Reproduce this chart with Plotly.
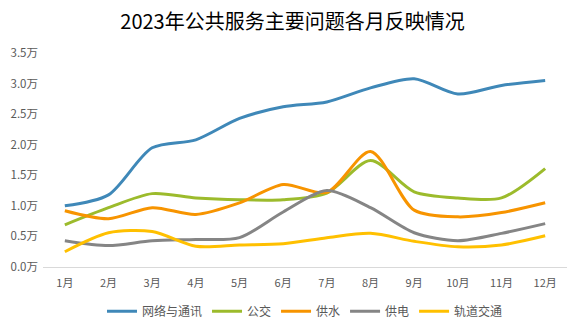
import plotly.graph_objects as go

months = ["1月", "2月", "3月", "4月", "5月", "6月", "7月", "8月", "9月", "10月", "11月", "12月"]

network = [1.00, 1.18, 1.95, 2.08, 2.43, 2.62, 2.70, 2.93, 3.08, 2.83, 2.97, 3.05]
bus = [0.69, 0.97, 1.20, 1.13, 1.10, 1.10, 1.21, 1.74, 1.23, 1.13, 1.13, 1.61]
water = [0.92, 0.79, 0.97, 0.86, 1.05, 1.35, 1.22, 1.89, 0.93, 0.82, 0.89, 1.05]
power = [0.43, 0.35, 0.43, 0.45, 0.48, 0.90, 1.25, 0.97, 0.56, 0.43, 0.55, 0.71]
metro = [0.25, 0.56, 0.58, 0.34, 0.36, 0.38, 0.48, 0.55, 0.42, 0.33, 0.36, 0.51]

series_names = ["网络与通讯", "公交", "供水", "供电", "轨道交通"]
series_values = [network, bus, water, power, metro]
colors = ["#3f88b8", "#9cbb2c", "#f79400", "#858585", "#ffc000"]

y_ticks = [0, 0.5, 1.0, 1.5, 2.0, 2.5, 3.0, 3.5]
y_ticktext = [f"{v:.1f}万" for v in y_ticks]

font_family = "Noto Sans CJK SC, Noto Sans, sans-serif"

fig = go.Figure()
for name, vals, col in zip(series_names, series_values, colors):
    fig.add_trace(go.Scatter(
        x=months, y=vals, name=name, mode="lines",
        line=dict(color=col, width=3, shape="spline", smoothing=0.8),
        hoverinfo="x+y+name",
    ))

fig.update_layout(
    width=585, height=331,
    margin=dict(l=43, r=18, t=53, b=64, autoexpand=False),
    paper_bgcolor="white", plot_bgcolor="white",
    title=dict(text="2023年公共服务主要问题各月反映情况", x=0.5, xanchor="center",
               y=0.935, yanchor="middle",
               font=dict(family=font_family, size=20, color="#000000")),
    font=dict(family=font_family, size=11, color="#595959"),
    xaxis=dict(
        type="category", range=[-0.5, 11.5],
        showgrid=False, zeroline=False,
        showline=True, linecolor="#d9d9d9", linewidth=1,
        ticks="", tickfont=dict(size=11, color="#595959"),
        ticklabelstandoff=6,
    ),
    yaxis=dict(
        range=[0, 3.5], tickvals=y_ticks, ticktext=y_ticktext,
        showgrid=False, zeroline=False, showline=False,
        ticks="", tickfont=dict(size=11.5, color="#595959"),
        ticklabelstandoff=4,
    ),
    legend=dict(
        orientation="h", x=0.5, xanchor="center",
        yref="container", y=0.06, yanchor="middle",
        font=dict(size=12, color="#595959"),
        itemwidth=30, tracegroupgap=0,
    ),
    showlegend=True,
)

fig.write_html("out.html")
